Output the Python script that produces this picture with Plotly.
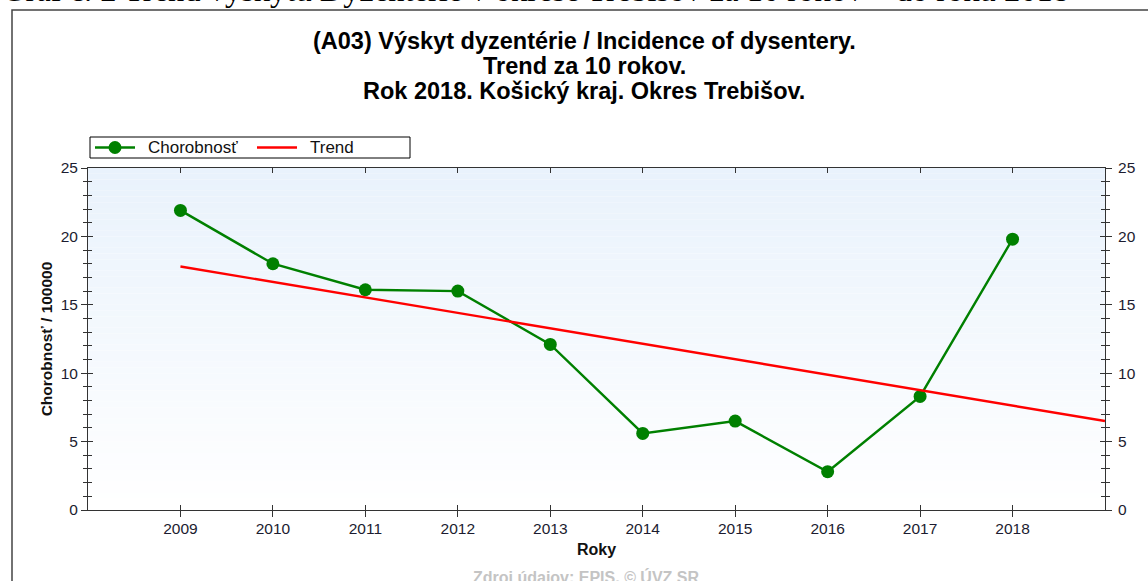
import plotly.graph_objects as go

# ---- data ----
years = [2009, 2010, 2011, 2012, 2013, 2014, 2015, 2016, 2017, 2018]
chorobnost = [21.9, 18.0, 16.1, 16.0, 12.1, 5.6, 6.5, 2.8, 8.3, 19.8]
trend_years = [2009, 2019]
trend_values = [17.8, 6.5]
x_ticks = [2009, 2010, 2011, 2012, 2013, 2014, 2015, 2016, 2017, 2018]
y_ticks = [0, 5, 10, 15, 20, 25]
legend_names = ["Chorobnosť", "Trend"]

W, H = 1148, 581
L, R, T, B = 88, 1105, 168, 510  # plot area in px


def px(x):
    return (x - L) / (R - L)


def py(y):
    return (B - y) / (B - T)


TICKCOL = "#333333"
LABCOL = "#1c1c30"
GREEN = "#008000"
RED = "#ff0000"
FONT = "Liberation Sans, Arial, sans-serif"

fig = go.Figure()
fig.add_trace(go.Scatter(
    x=years, y=chorobnost, name=legend_names[0], mode="lines+markers",
    line=dict(color=GREEN, width=2.4),
    marker=dict(color=GREEN, size=13, symbol="circle"),
))
fig.add_trace(go.Scatter(
    x=trend_years, y=trend_values, name=legend_names[1], mode="lines",
    line=dict(color=RED, width=2.4),
))
# invisible helper traces for the extra axes
fig.add_trace(go.Scatter(x=[2009], y=[0], xaxis="x2", yaxis="y", showlegend=False,
                         mode="markers", marker=dict(opacity=0), hoverinfo="skip"))
fig.add_trace(go.Scatter(x=[2009], y=[0], xaxis="x", yaxis="y2", showlegend=False,
                         mode="markers", marker=dict(opacity=0), hoverinfo="skip"))
fig.add_trace(go.Scatter(x=[2009], y=[0], xaxis="x", yaxis="y3", showlegend=False,
                         mode="markers", marker=dict(opacity=0), hoverinfo="skip"))

# gradient background bands
shapes = []
n = 60
top = (233, 242, 252)
bot = (255, 255, 255)
for i in range(n):
    f = i / (n - 1)
    c = tuple(round(top[k] + (bot[k] - top[k]) * f) for k in range(3))
    shapes.append(dict(type="rect", xref="x domain", yref="y domain",
                       x0=0, x1=1, y0=1 - (i + 1) / n, y1=1 - i / n,
                       fillcolor="rgb(%d,%d,%d)" % c, line=dict(width=0),
                       layer="below"))
# outer frame
shapes.append(dict(type="rect", xref="paper", yref="paper",
                   x0=px(12), x1=px(W + 20), y0=py(H + 20), y1=py(10),
                   line=dict(color="#444444", width=1.5), fillcolor="rgba(0,0,0,0)"))

# legend box (drawn manually to match the compact original)
shapes.append(dict(type="rect", xref="paper", yref="paper",
                   x0=px(90), x1=px(410), y0=py(158), y1=py(137),
                   line=dict(color="#000000", width=1), fillcolor="white"))
shapes.append(dict(type="line", xref="paper", yref="paper",
                   x0=px(95), x1=px(135), y0=py(147.5), y1=py(147.5),
                   line=dict(color=GREEN, width=2.4)))
shapes.append(dict(type="circle", xref="paper", yref="paper",
                   x0=px(108.5), x1=px(121.5), y0=py(154), y1=py(141),
                   line=dict(color=GREEN, width=0), fillcolor=GREEN))
shapes.append(dict(type="line", xref="paper", yref="paper",
                   x0=px(257), x1=px(297), y0=py(147.5), y1=py(147.5),
                   line=dict(color=RED, width=2.4)))

axis_common = dict(showgrid=False, zeroline=False)

fig.update_layout(
    width=W, height=H,
    margin=dict(l=L, r=W - R, t=T, b=H - B, pad=0),
    paper_bgcolor="white", plot_bgcolor="white",
    font=dict(family=FONT, size=16, color=LABCOL),
    shapes=shapes,
    showlegend=False,
    xaxis=dict(range=[2008, 2019], tickvals=x_ticks, ticks="inside", ticklen=5,
               tickcolor=TICKCOL, showline=True, linecolor=TICKCOL, linewidth=1,
               mirror="ticks", tickfont=dict(size=15.5, color=LABCOL),
               ticklabelstandoff=4,
               title=dict(text="<b>Roky</b>", font=dict(size=16, color="#111111"), standoff=8),
               **axis_common),
    xaxis2=dict(range=[2008, 2019], overlaying="x", matches="x", side="bottom",
                tickvals=x_ticks, ticks="outside", ticklen=6, tickcolor=TICKCOL,
                showticklabels=False, showline=False, **axis_common),
    yaxis=dict(range=[0, 25], tickvals=y_ticks, ticks="inside", ticklen=5,
               tickcolor=TICKCOL, showline=True, linecolor=TICKCOL, linewidth=1,
               mirror="ticks", showticklabels=False,
               minor=dict(dtick=1, ticks="inside", ticklen=4, tickcolor=TICKCOL),
               **axis_common),
    yaxis2=dict(range=[0, 25], overlaying="y", matches="y", side="left",
                tickvals=y_ticks, ticks="outside", ticklen=6, tickcolor=TICKCOL,
                showline=False, tickfont=dict(size=15.5, color=LABCOL),
                minor=dict(dtick=1, ticks="outside", ticklen=4, tickcolor=TICKCOL),
                title=dict(text="<b>Chorobnosť / 100000</b>",
                           font=dict(size=15.5, color="#111111"), standoff=4),
                **axis_common),
    yaxis3=dict(range=[0, 25], overlaying="y", matches="y", side="right",
                tickvals=y_ticks, ticks="outside", ticklen=6, tickcolor=TICKCOL,
                showline=False, tickfont=dict(size=15.5, color=LABCOL),
                ticklabelstandoff=3,
                minor=dict(dtick=1, ticks="outside", ticklen=4, tickcolor=TICKCOL),
                **axis_common),
)

# legend texts
fig.add_annotation(text=legend_names[0], xref="paper", yref="paper",
                   x=px(146), y=py(147.5), xanchor="left", yanchor="middle",
                   showarrow=False, font=dict(family=FONT, size=17, color="#111111"))
fig.add_annotation(text=legend_names[1], xref="paper", yref="paper",
                   x=px(308), y=py(147.5), xanchor="left", yanchor="middle",
                   showarrow=False, font=dict(family=FONT, size=17, color="#111111"))

title_lines = [
    ("(A03) Výskyt dyzentérie / Incidence of dysentery.", 41.5),
    ("Trend za 10 rokov.", 66),
    ("Rok 2018. Košický kraj. Okres Trebišov.", 91),
]
for txt, yy in title_lines:
    fig.add_annotation(text="<b>%s</b>" % txt, xref="paper", yref="paper",
                       x=px(584), y=py(yy), xanchor="center", yanchor="middle",
                       showarrow=False, font=dict(family=FONT, size=23.5, color="#000000"))

fig.add_annotation(text="Graf č. 2 Trend výskytu Dyzentérie v okrese Trebišov za 10 rokov – do roku 2018",
                   xref="paper", yref="paper", x=px(0), y=py(10), xanchor="left", yanchor="bottom",
                   showarrow=False,
                   font=dict(family="Liberation Serif, Times New Roman, serif", size=32.5, color="#000000"))

fig.add_annotation(text="<b>Zdroj údajov: EPIS, © ÚVZ SR</b>", xref="paper", yref="paper",
                   x=px(586), y=py(577), xanchor="center", yanchor="middle", showarrow=False,
                   font=dict(family=FONT, size=16, color="#c4c4c4"))

fig.write_html("out.html", config={"displayModeBar": False},
               post_script="document.body.style.margin='0';")
